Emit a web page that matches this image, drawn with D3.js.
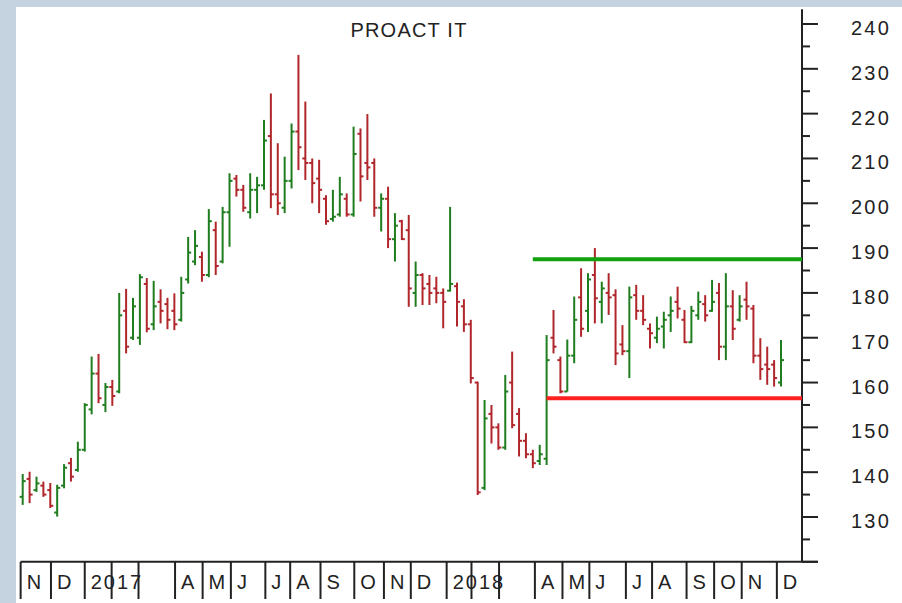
<!DOCTYPE html>
<html><head><meta charset="utf-8">
<script src="https://cdn.jsdelivr.net/npm/d3@7"></script>
<style>html,body{margin:0;padding:0;background:#c5d2df;}svg{display:block;}</style>
</head><body><svg id="c" width="902" height="603"></svg>
<script>
const title = "PROACT IT";
const highs = [139.6,140.1,139.0,137.9,137.6,137.2,141.8,143.2,146.8,155.4,
165.8,166.4,159.9,160.6,180.0,180.9,178.9,184.2,183.3,182.7,
180.8,178.9,179.9,183.6,192.5,194.0,189.2,198.7,195.9,199.2,
206.7,206.3,204.1,206.7,205.9,218.6,224.5,213.4,210.4,217.8,
233.1,222.7,210.0,209.7,201.8,203.0,205.9,202.2,217.1,216.7,
219.9,210.0,202.2,203.7,197.8,196.3,197.4,187.0,184.4,184.0,
183.6,181.0,199.2,182.3,178.6,174.0,160.2,156.1,155.0,150.9,
161.7,166.9,154.3,148.7,145.0,146.1,170.6,176.2,165.8,169.6,
179.2,185.5,184.4,190.0,182.5,184.4,180.8,172.8,181.4,181.8,
179.5,173.2,174.7,175.8,179.2,181.4,176.2,177.1,180.3,179.5,
182.9,182.2,184.4,180.6,179.5,182.5,177.3,169.9,168.0,165.0,
169.5];
const lows = [132.7,133.1,135.6,134.5,132.0,130.1,136.4,137.9,140.1,144.6,
152.9,155.4,153.4,154.8,157.6,166.5,169.5,168.4,171.2,171.7,
173.2,171.9,171.7,173.6,182.1,186.2,182.5,183.5,184.0,186.6,
190.3,201.5,198.1,196.6,197.8,203.0,198.9,197.4,197.8,203.3,
207.4,205.2,200.0,197.8,195.2,195.9,197.0,197.0,197.0,200.4,
205.2,197.0,193.7,190.0,187.0,191.8,176.9,176.9,177.3,177.3,
177.7,172.1,180.3,172.5,171.3,159.8,134.9,136.0,146.4,145.0,
145.0,149.8,143.5,143.1,140.9,141.6,141.6,166.5,157.6,158.0,
164.3,170.2,171.3,173.2,173.2,175.1,163.9,166.1,161.0,174.0,
172.8,167.6,168.8,167.6,171.3,174.3,168.8,168.8,174.0,173.6,
175.8,165.0,165.0,169.5,173.6,174.0,164.3,160.6,159.5,159.1,
159.1];
const opens = [134.5,138.5,136,137,136,131,137,142,140.5,145,
154,162,155,159,158,176,170,170,182,173,
178,177.5,176,174,183,187,188,184,194,187,
198,205.5,203,198,203,204,215,202,199,205,
216,210,209,205.5,201,196.5,197.5,201,197.5,215.5,
209,209,199,201,192,196,194,180,184,182,
181,180,180.5,181.5,177,173,160,136.5,153,150,
145.5,160,153,147,144,142.5,143,170,165,158,
166,179,176,184,178,180,179.5,168.5,167,179.5,
176,172,170,172.5,175,178,174,169,175,177.5,
176,180,168,177,174,178.5,176.5,166,164,164,
160];
const closes = [138,135,137.5,135,132.5,136.5,141,139,145,155,
162,156.5,159,157,175,168,177,183.5,172,177,
176,174,173,180,189,190.5,184,196,186,198,
205,203,199,203,204,214,202,200,205,216,
212.5,209,204.5,203,196,197,202,197.5,211,206,
208,199,201,192,195,192,181,184,181,180,
180,178,182,178,173,161,135.5,152,150,145.5,
158,150.5,147,144,142,144,165,168,158,166,
174,172,183,178.8,181,179,166.5,167,179,176,
174,171,172,174,176,176.5,169,176,178,175,
178,168,177,172,177,177,166,163,163,161,
165];
// month separators (week-bar index where each month starts) and labels
const monthPos = [-0.3,4.1,9.0,12.9,16.8,22.1,26.1,30.2,35.2,38.8,43.2,48.1,52.4,56.3,61.5,65.1,69.1,74.3,78.3,82.2,87.5,91.3,96.3,100.3,104.3,109.4];
const monthLabels = ["N","D","2017","","","A","M","J","J","A","S","O","N","D","2018","","","A","M","J","J","A","S","O","N","D"];
const yMajor = [120,130,140,150,160,170,180,190,200,210,220,230,240];
const yLabels = ["","130","140","150","160","170","180","190","200","210","220","230","240"];
const yMinor = [125,135,145,155,165,175,185,195,205,215,225,235];
// horizontal trend lines: level and starting bar index
const levels = [187.5, 156.5];
const levelStart = [74.0, 76.0];
const levelColors = ["#10a010", "#ff2020"];

const svg = d3.select("#c");
const font = "'Liberation Sans', Arial, sans-serif";
svg.append("rect").attr("x",16).attr("y",7).attr("width",886).attr("height",596).attr("fill","#fff");

const x = d3.scaleLinear().domain([0, 110]).range([22.7, 781]);
const y = d3.scaleLinear().domain([130, 240]).range([517, 24]);
const axisX = 802;
const baseY = y(120);
const topY = y(243.3);

// title
svg.append("text").attr("x", 409).attr("y", 37).attr("text-anchor","middle")
  .attr("font-family", font).attr("font-size", 20).attr("letter-spacing", 1.2)
  .attr("fill", "#222").text(title);

// right axis
const yAxis = svg.append("g");
yAxis.append("line").attr("x1",axisX).attr("x2",axisX).attr("y1",topY).attr("y2",baseY)
  .attr("stroke","#222").attr("stroke-width",2);
yAxis.selectAll(".maj").data(yMajor).join("line").attr("class","maj")
  .attr("x1",axisX).attr("x2",axisX+16).attr("y1",d=>y(d)).attr("y2",d=>y(d))
  .attr("stroke","#222").attr("stroke-width",2);
yAxis.selectAll(".min").data(yMinor).join("line").attr("class","min")
  .attr("x1",axisX).attr("x2",axisX+8).attr("y1",d=>y(d)).attr("y2",d=>y(d))
  .attr("stroke","#222").attr("stroke-width",2);
yAxis.selectAll("text").data(yMajor).join("text")
  .attr("x", 851).attr("y", d=>y(d)+11)
  .attr("font-family", font).attr("font-size", 20).attr("letter-spacing", 2.2)
  .attr("fill","#222").text((d,i)=>yLabels[i]);

// bottom axis
const xAxis = svg.append("g");
xAxis.append("line").attr("x1", x(monthPos[0])).attr("x2", axisX+16).attr("y1", baseY).attr("y2", baseY)
  .attr("stroke","#222").attr("stroke-width",2);
xAxis.selectAll("line.sep").data(monthPos).join("line").attr("class","sep")
  .attr("x1", d=>x(d)).attr("x2", d=>x(d)).attr("y1", baseY).attr("y2", 599)
  .attr("stroke","#222").attr("stroke-width",2);
xAxis.selectAll("text").data(monthPos).join("text")
  .attr("x", d=>x(d)+6).attr("y", 589)
  .attr("font-family", font).attr("font-size", 20).attr("letter-spacing", 2)
  .attr("fill","#222").text((d,i)=>monthLabels[i]);

// OHLC bars
const green = "#1f7d1f", red = "#b0262b";
const bars = svg.append("g").selectAll("g").data(highs.map((h,i)=>i)).join("g")
  .attr("stroke", i => closes[i] >= opens[i] ? green : red).attr("stroke-width", 2);
bars.append("line").attr("x1", i=>x(i)).attr("x2", i=>x(i)).attr("y1", i=>y(highs[i])).attr("y2", i=>y(lows[i]));
bars.append("line").attr("x1", i=>x(i)-3).attr("x2", i=>x(i)).attr("y1", i=>y(opens[i])).attr("y2", i=>y(opens[i]));
bars.append("line").attr("x1", i=>x(i)).attr("x2", i=>x(i)+3).attr("y1", i=>y(closes[i])).attr("y2", i=>y(closes[i]));

// trend lines
svg.append("g").selectAll("line").data(levels).join("line")
  .attr("x1", (d,i)=>x(levelStart[i])).attr("x2", axisX)
  .attr("y1", d=>y(d)).attr("y2", d=>y(d))
  .attr("stroke", (d,i)=>levelColors[i]).attr("stroke-width", 4);
</script></body></html>
